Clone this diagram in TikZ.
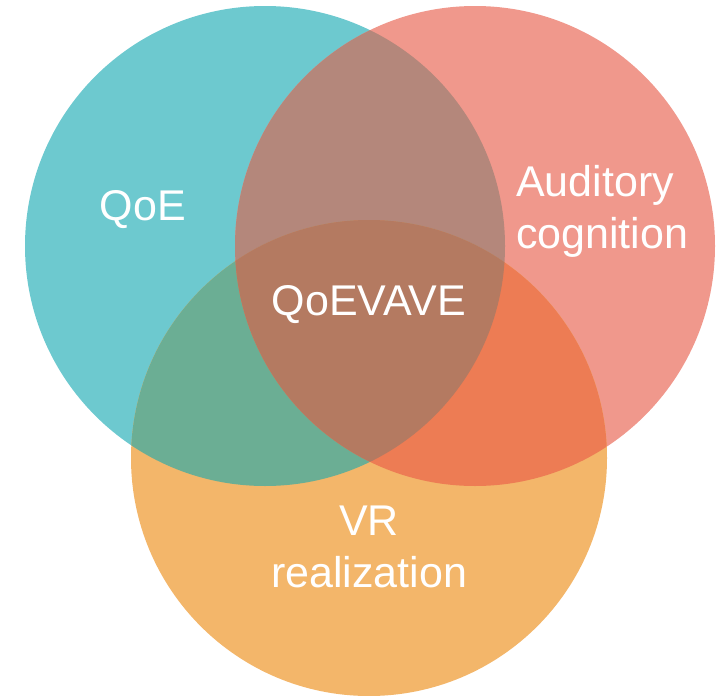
\documentclass[tikz,border=0pt]{standalone}
\usepackage{fontspec}
\setmainfont{Liberation Sans}
\definecolor{cteal}{RGB}{109,201,207}
\definecolor{cred}{RGB}{240,152,140}
\definecolor{corange}{RGB}{243,182,106}
\definecolor{ctr}{RGB}{180,135,123}
\definecolor{cto}{RGB}{107,174,148}
\definecolor{cro}{RGB}{237,124,84}
\definecolor{call}{RGB}{180,122,97}
\begin{document}
\begin{tikzpicture}[x=1pt,y=-1pt,
  lbl/.style={text=white, font=\fontsize{43}{52}\selectfont, align=center, inner sep=0pt}]
\useasboundingbox (0,0) rectangle (726,696);
\def\tealc{(265,246) circle (240pt)}
\def\redc{(475,246) circle (240pt)}
\def\orac{(369,458) circle (238pt)}
\fill[cteal] \tealc;
\fill[cred] \redc;
\fill[corange] \orac;
\begin{scope}\clip \tealc; \fill[ctr] \redc; \end{scope}
\begin{scope}\clip \tealc; \fill[cto] \orac; \end{scope}
\begin{scope}\clip \redc; \fill[cro] \orac; \end{scope}
\begin{scope}\clip \tealc; \clip \redc; \fill[call] \orac; \end{scope}
\node[lbl] (qoe) at (143,210) {QoE};
\node[lbl, align=left, anchor=west] (aud) at (516,211) {Auditory\\cognition};
\node[lbl] (mid) at (369,305) {QoEVAVE};
\node[lbl] (vr) at (369,547) {VR\\realization};
\end{tikzpicture}
\end{document}
